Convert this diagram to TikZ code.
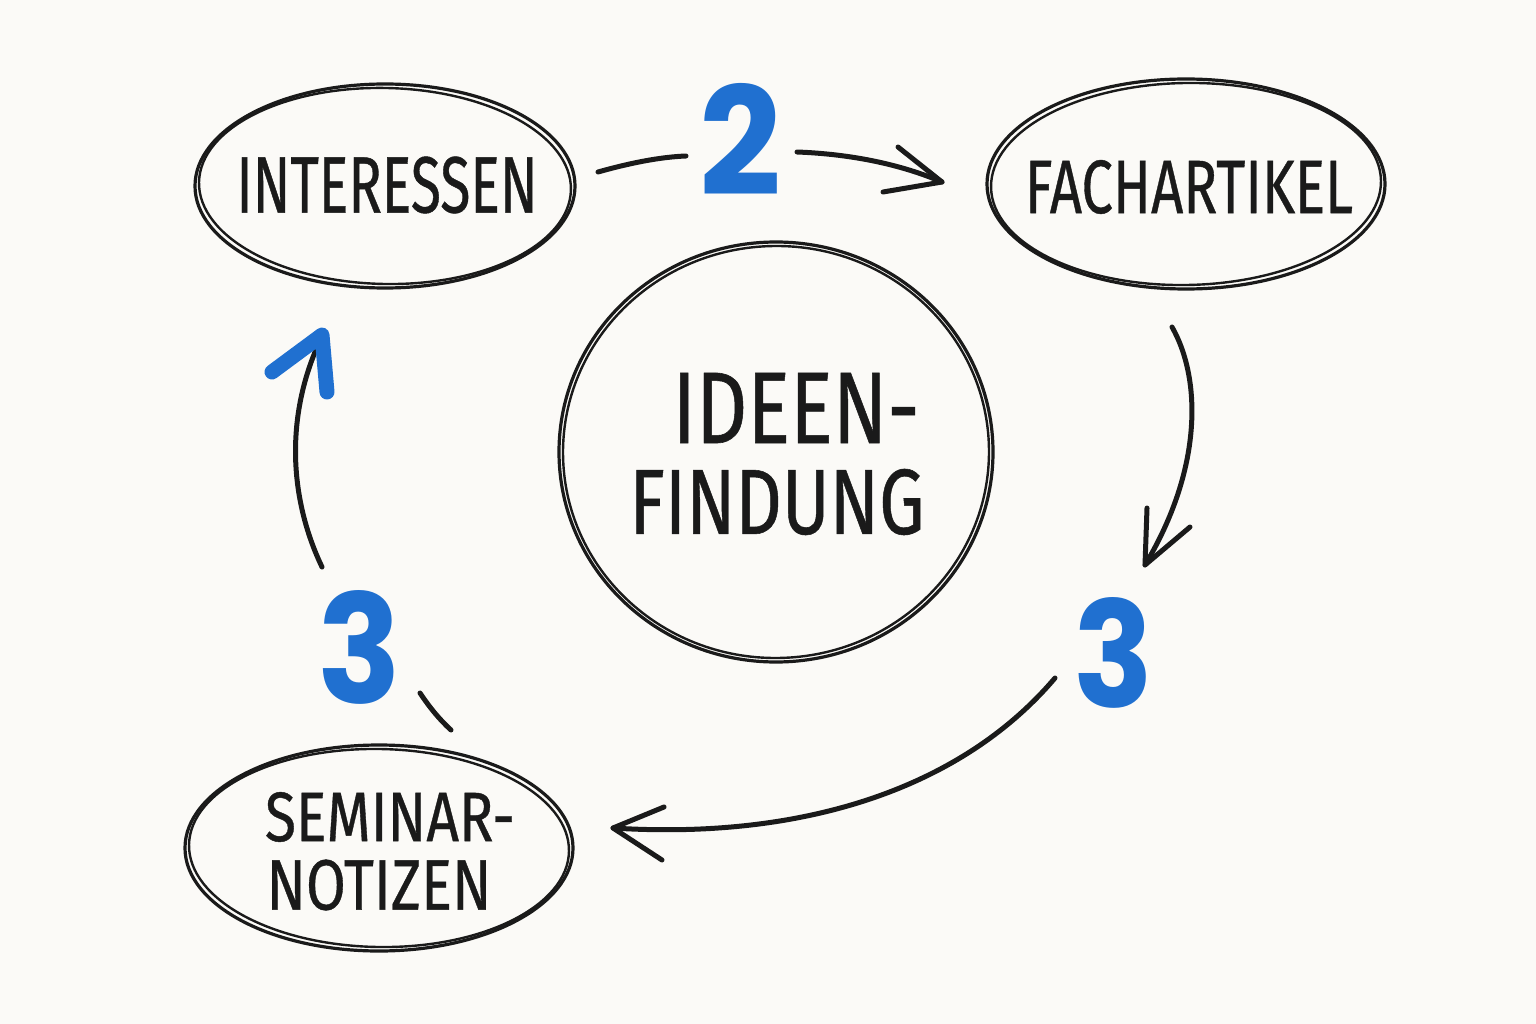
\documentclass[tikz,border=0pt]{standalone}
\usepackage{fontspec}
\usepackage{graphicx}
\usetikzlibrary{shapes.geometric}
\newfontfamily\labfont[FakeBold=0.6]{Fira Sans}
\newfontfamily\numfont{Poppins}
\definecolor{paper}{HTML}{FBFAF7}
\definecolor{ink}{HTML}{1A1A1A}
\definecolor{marker}{HTML}{2070D0}
\begin{document}
\begin{tikzpicture}[x=1pt,y=-1pt,
  rim/.style={draw=ink, line width=3.2pt},
  rimin/.style={draw=ink, line width=2.4pt},
  shp/.style={ellipse, rim, inner sep=0pt},
  conn/.style={draw=ink, line width=5pt, line cap=round, line join=round},
  lbl/.style={inner sep=0pt, text=ink},
  num/.style={inner sep=0pt, text=marker},
  headblue/.style={draw=marker, line width=15pt, line cap=round, line join=round},
]
\fill[paper] (0,0) rectangle (1536,1024);
\useasboundingbox (0,0) rectangle (1536,1024);

% shapes
\node[shp, minimum width=380pt, minimum height=204pt] (int) at (385,186) {};
\draw[rimin, rotate around={-1.2:(int.center)}] (int.center) ellipse [x radius=186, y radius=98];
\node[shp, minimum width=398pt, minimum height=210pt] (fach) at (1186,184) {};
\draw[rimin, rotate around={1:(fach.center)}] (fach.center) ellipse [x radius=195, y radius=101];
\node[shp, minimum width=434pt, minimum height=420pt] (idee) at (776,452) {};
\draw[rimin, rotate around={2:(idee.center)}] (idee.center) ellipse [x radius=213, y radius=206];
\node[shp, minimum width=388pt, minimum height=206pt] (sem) at (379,848) {};
\draw[rimin, rotate around={-1:(sem.center)}] (sem.center) ellipse [x radius=190, y radius=99];

% labels
\node[lbl] (intT) at (387,185) {\resizebox{301pt}{56pt}{\labfont INTERESSEN}};
\node[lbl] (fachT) at (1189,187) {\resizebox{328pt}{53pt}{\labfont FACHARTIKEL}};
\node[lbl] (ideeA) at (796,408) {\resizebox{247pt}{70pt}{\labfont IDEEN-}};
\node[lbl] (ideeB) at (777,502) {\resizebox{295pt}{65pt}{\labfont FINDUNG}};
\node[lbl] (semA) at (390,817) {\resizebox{250pt}{49pt}{\labfont SEMINAR-}};
\node[lbl] (semB) at (379,885) {\resizebox{225pt}{50pt}{\labfont NOTIZEN}};

% blue numbers
\node[num] (n2) at (741,139) {\resizebox{82pt}{112pt}{\numfont\bfseries 2}};
\node[num] (n3r) at (1114,653) {\resizebox{80pt}{110pt}{\numfont\bfseries 3}};
\node[num] (n3l) at (360,647) {\resizebox{84pt}{113pt}{\numfont\bfseries 3}};

% connector endpoints
\coordinate (aS) at (598,172);
\coordinate (aM) at (686,156);
\coordinate (bS) at (797,152);
\coordinate (bT) at (942,182);
\coordinate (cS) at (1172,327);
\coordinate (cT) at (1145,565);
\coordinate (dS) at (1055,678);
\coordinate (dT) at (613,828);
\coordinate (eS) at (420,693);
\coordinate (eT) at (451,730);
\coordinate (fS) at (322,567);
\coordinate (fT) at (318,345);

% INTERESSEN -> 2 -> FACHARTIKEL
\draw[conn] (aS) .. controls (630,163) and (660,157) .. (aM);
\draw[conn] (bS) .. controls (850,154) and (900,164) .. (bT);
\draw[conn] (898,147) -- (bT) -- (883,192);

% FACHARTIKEL -> 3
\draw[conn] (cS) .. controls (1202,380) and (1202,470) .. (cT);
\draw[conn] (1147,508) -- (cT) -- (1190,527);

% 3 -> SEMINAR-NOTIZEN
\draw[conn] (dS) .. controls (960,790) and (800,840) .. (dT);
\draw[conn] (664,807) -- (dT) -- (662,860);

% SEMINAR-NOTIZEN -- 3
\draw[conn] (eS) .. controls (430,708) and (440,720) .. (eT);

% 3 -> INTERESSEN
\draw[conn] (fS) .. controls (290,500) and (285,420) .. (fT);
\draw[headblue] (272,372) -- (322,335) -- (327,392);
\end{tikzpicture}
\end{document}
